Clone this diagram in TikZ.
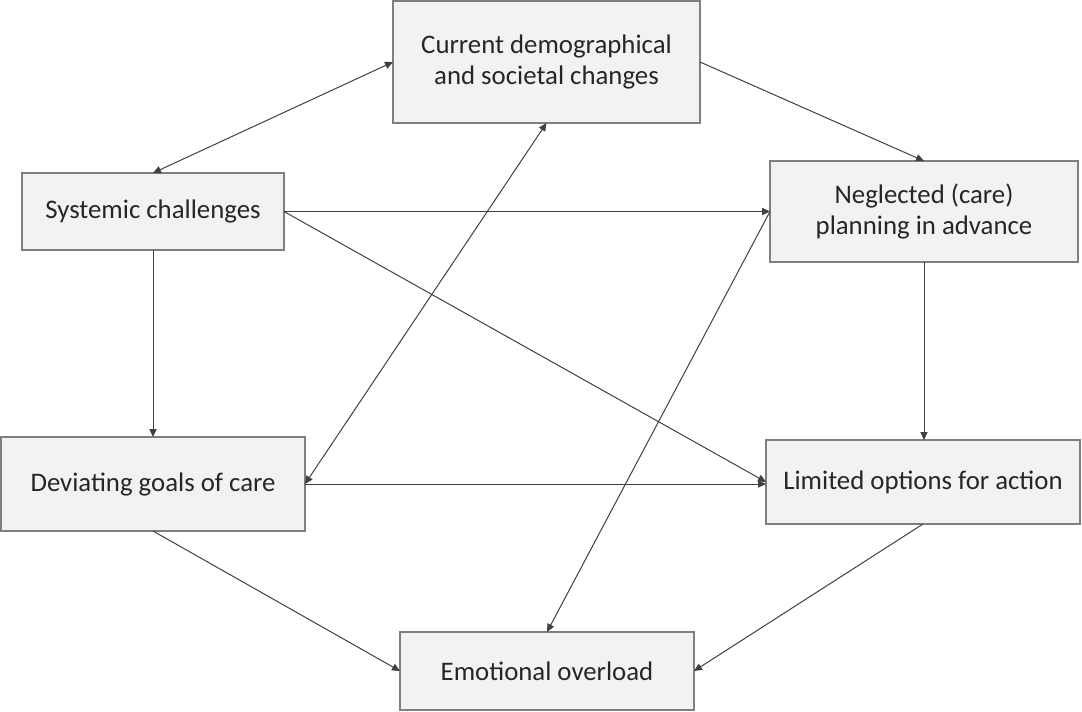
\documentclass[tikz,border=0pt]{standalone}
\usepackage{fontspec}
\setmainfont{Carlito}
\usetikzlibrary{arrows.meta}
\definecolor{boxfill}{HTML}{F2F2F2}
\definecolor{boxline}{HTML}{7F7F7F}
\definecolor{linkline}{HTML}{404040}
\tikzset{
  box/.style={draw=boxline, line width=1pt, fill=boxfill, align=center,
    text=black!85, font=\fontsize{13.4}{15.6}\selectfont, inner sep=0pt, outer sep=0pt},
  link/.style={draw=linkline, line width=0.5pt, -{Triangle[length=4pt,width=3.6pt]}},
  both/.style={link, {Triangle[length=4pt,width=3.6pt]}-{Triangle[length=4pt,width=3.6pt]}}
}
\begin{document}
\begin{tikzpicture}[x=0.5pt,y=-0.5pt]
\useasboundingbox (0,0) rectangle (1082,712);

\node [box, minimum width=153.5pt, minimum height=61pt] (changes) at (546.5,62)
  {Current demographical\\and societal changes};
\node [box, minimum width=131pt, minimum height=38.5pt] (systemic) at (153,211.5)
  {Systemic challenges};
\node [box, minimum width=154pt, minimum height=50.5pt] (planning) at (924,211.5)
  {Neglected (care)\\planning in advance};
\node [box, minimum width=152pt, minimum height=47pt] (goals) at (153,484)
  {Deviating goals of care};
\node [box, minimum width=157pt, minimum height=42pt] (options) at (923,482)
  {Limited options for action};
\node [box, minimum width=147pt, minimum height=39pt] (overload) at (547,671)
  {Emotional overload};

\draw [both] (changes.west) -- (systemic.north);
\draw [link] (changes.east) -- (planning.north);
\draw [link] (systemic.east) -- (planning.west);
\draw [link] (systemic.east) -- (options.west);
\draw [link] (systemic.south) -- (goals.north);
\draw [both] (changes.south) -- (goals.east);
\draw [link] (planning.west) -- (overload.north);
\draw [link] (planning.south) -- (planning.south |- options.north);
\draw [link] (goals.east) -- (goals.east -| options.west);
\draw [link] (goals.south) -- (overload.west);
\draw [link] (options.south) -- (overload.east);

\end{tikzpicture}
\end{document}
